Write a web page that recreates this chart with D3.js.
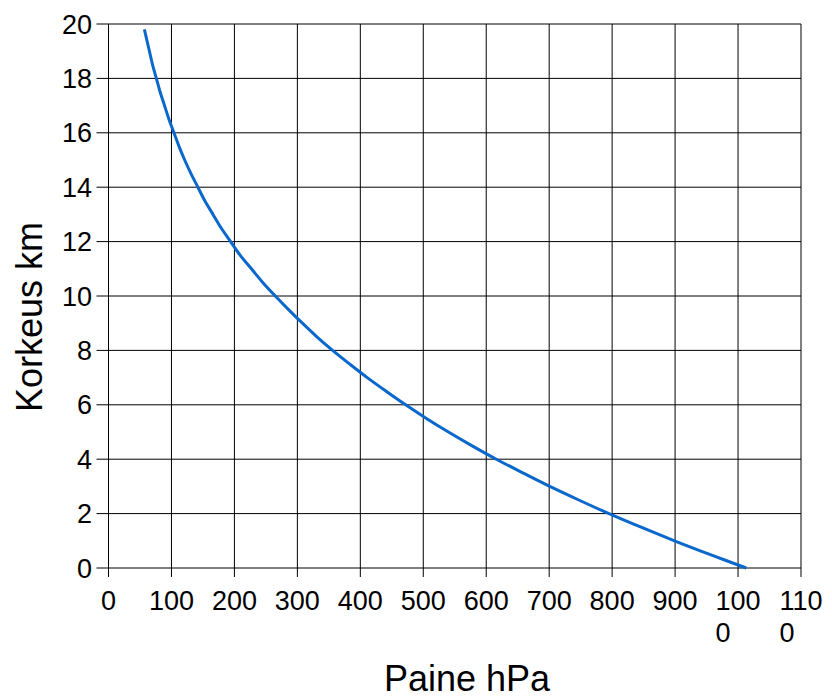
<!DOCTYPE html>
<html>
<head>
<meta charset="utf-8">
<script src="https://cdn.jsdelivr.net/npm/d3@7/dist/d3.min.js"></script>
<style>
  html, body { margin: 0; padding: 0; background: #fff; }
  svg { display: block; font-family: "Liberation Sans", Arial, sans-serif; }
</style>
</head>
<body>
<svg id="chart" width="832" height="698"></svg>
<script>
// Standard atmosphere: height (km) vs pressure (hPa)
const heightKm = [0, 0.5, 1, 1.5, 2, 2.5, 3, 3.5, 4, 4.5, 5, 5.5, 6, 6.5, 7, 7.5, 8, 8.5, 9, 9.5,
                  10, 10.5, 11, 11.5, 12, 12.5, 13, 13.5, 14, 14.5, 15, 15.5, 16, 16.5, 17, 17.5,
                  18, 18.5, 19, 19.5, 19.8];
const pressureHpa = [1013, 955, 899, 846, 795, 747, 701, 658, 616, 577, 540, 505, 472, 441, 411, 383,
                     356, 331, 308, 286, 265, 245, 227, 209, 194, 179, 166, 153, 142, 131, 121, 112,
                     104, 96, 89, 82, 76, 70, 65, 60, 57];

const xTicks = [0, 100, 200, 300, 400, 500, 600, 700, 800, 900, 1000, 1100];
const xTickLabels = ["0", "100", "200", "300", "400", "500", "600", "700", "800", "900", "1000", "1100"];
const yTicks = [0, 2, 4, 6, 8, 10, 12, 14, 16, 18, 20];
const yTickLabels = ["0", "2", "4", "6", "8", "10", "12", "14", "16", "18", "20"];

const xTitle = "Paine hPa";
const yTitle = "Korkeus km";

const svg = d3.select("#chart");
const plotL = 108.5, plotR = 801, plotT = 24, plotB = 568;

const x = d3.scaleLinear().domain([0, 1100]).range([plotL, plotR]);
const y = d3.scaleLinear().domain([0, 20]).range([plotB, plotT]);

// grid with outward tick extensions
const grid = svg.append("g").attr("stroke", "#000").attr("stroke-width", 1);
grid.selectAll("line.v").data(xTicks).join("line")
  .attr("class", "v")
  .attr("x1", d => x(d)).attr("x2", d => x(d))
  .attr("y1", plotT).attr("y2", plotB + 9);
grid.selectAll("line.h").data(yTicks).join("line")
  .attr("class", "h")
  .attr("x1", plotL - 12).attr("x2", plotR)
  .attr("y1", d => y(d)).attr("y2", d => y(d));

// y tick labels
svg.append("g").selectAll("text").data(yTicks).join("text")
  .attr("x", 92)
  .attr("y", d => y(d) + 9.6)
  .attr("text-anchor", "end")
  .attr("font-size", 27)
  .attr("fill", "#000")
  .text((d, i) => yTickLabels[i]);

// x tick labels (long labels wrap after three characters, left aligned)
const xl = svg.append("g").attr("font-size", 27).attr("fill", "#000");
xTicks.forEach((d, i) => {
  const lab = xTickLabels[i];
  const first = lab.slice(0, 3), rest = lab.slice(3);
  const t = xl.append("text").attr("y", 610).text(first);
  const w = t.node().getComputedTextLength();
  const x0 = x(d) - w / 2;
  t.attr("x", x0);
  if (rest) {
    xl.append("text").attr("x", x0).attr("y", 641.5).text(rest);
  }
});

// curve
const line = d3.line()
  .x((d, i) => x(pressureHpa[i]))
  .y(d => y(d))
  .curve(d3.curveCatmullRom);
svg.append("path")
  .datum(heightKm)
  .attr("d", line)
  .attr("fill", "none")
  .attr("stroke", "#0a68cc")
  .attr("stroke-width", 3)
  .attr("stroke-linecap", "butt");

// axis titles
svg.append("text")
  .attr("x", 467).attr("y", 691)
  .attr("text-anchor", "middle")
  .attr("font-size", 36)
  .attr("fill", "#000")
  .text(xTitle);
svg.append("text")
  .attr("transform", "translate(42,317) rotate(-90)")
  .attr("text-anchor", "middle")
  .attr("font-size", 36)
  .attr("fill", "#000")
  .text(yTitle);
</script>
</body>
</html>
